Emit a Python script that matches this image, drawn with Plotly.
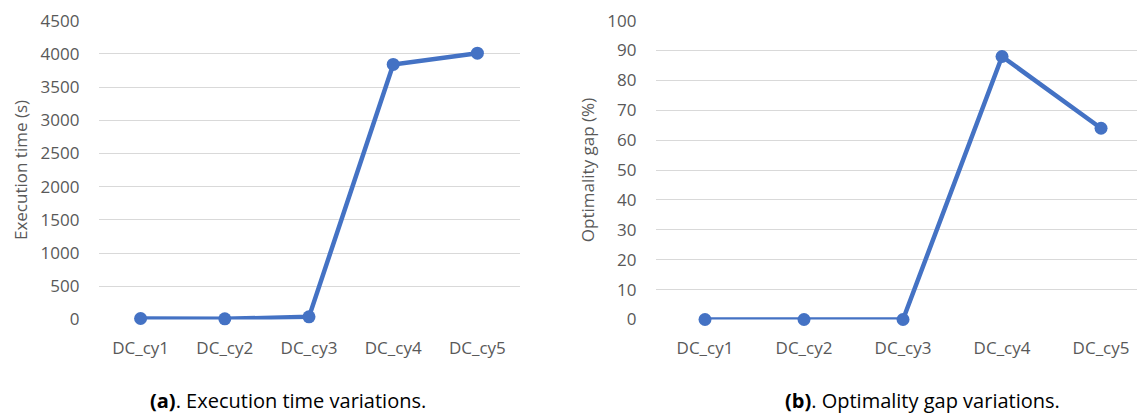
import plotly.graph_objects as go

categories = ["DC_cy1", "DC_cy2", "DC_cy3", "DC_cy4", "DC_cy5"]
exec_time = [15, 10, 40, 3840, 4010]
opt_gap = [0, 0, 0, 88, 64]
exec_ticks = [0, 500, 1000, 1500, 2000, 2500, 3000, 3500, 4000, 4500]
gap_ticks = [0, 10, 20, 30, 40, 50, 60, 70, 80, 90, 100]

OFF = 8  # page body margin
W, H = 1145 - OFF, 413 - OFF
LINE = "#4472C4"
GRID = "#D9D9D9"
TICK = "#595959"
FONT = "Open Sans"


def px(s):
    return (s - OFF) / W


def py(s):
    return (H - (s - OFF)) / H


fig = go.Figure()
fig.add_trace(go.Scatter(x=categories, y=exec_time, mode="lines+markers",
                         line=dict(color=LINE, width=4.5),
                         marker=dict(color=LINE, size=13),
                         xaxis="x", yaxis="y", showlegend=False, cliponaxis=False))
fig.add_trace(go.Scatter(x=categories, y=opt_gap, mode="lines+markers",
                         line=dict(color=LINE, width=4.5),
                         marker=dict(color=LINE, size=13),
                         xaxis="x2", yaxis="y2", showlegend=False, cliponaxis=False))

ydom = [py(319.5), py(20.5)]

common_x = dict(type="category", showgrid=False, zeroline=False, showline=False,
                tickfont=dict(family=FONT, size=17, color=TICK), ticks="",
                ticklabelstandoff=16, automargin=False, ticklabeloverflow="allow")
common_y = dict(showgrid=True, gridcolor=GRID, gridwidth=1.3, zeroline=False,
                showline=False, ticks="", automargin=False,
                tickfont=dict(family=FONT, size=17, color=TICK),
                ticklabelstandoff=18, tickmode="array", ticklabeloverflow="allow")

fig.update_layout(
    width=W, height=H,
    margin=dict(l=0, r=0, t=0, b=0, autoexpand=False),
    paper_bgcolor="white", plot_bgcolor="white",
    xaxis=dict(domain=[px(98.5), px(519.5)], anchor="y",
               range=[-0.5, 4.5], **common_x),
    yaxis=dict(domain=ydom, anchor="x", range=[0, 4502], tickvals=exec_ticks,
               title=dict(text="Execution time (s)", standoff=8,
                          font=dict(family=FONT, size=17, color=TICK)),
               **common_y),
    xaxis2=dict(domain=[px(655.5), 1.0], anchor="y2",
                range=[-0.5, 4.444], **common_x),
    yaxis2=dict(domain=ydom, anchor="x2", range=[0, 100.05], tickvals=gap_ticks,
                title=dict(text="Optimality gap (%)", standoff=8,
                           font=dict(family=FONT, size=17, color=TICK)),
                **common_y),
    annotations=[
        dict(text="<b>(a)</b>. Execution time variations.", xref="paper", yref="paper",
             x=px(288), y=py(400), xanchor="center", yanchor="middle",
             showarrow=False, font=dict(family=FONT, size=20, color="#000000")),
        dict(text="<b>(b)</b>. Optimality gap variations.", xref="paper", yref="paper",
             x=px(922), y=py(400), xanchor="center", yanchor="middle",
             showarrow=False, font=dict(family=FONT, size=20, color="#000000")),
    ],
)

fig.write_html("out.html")
